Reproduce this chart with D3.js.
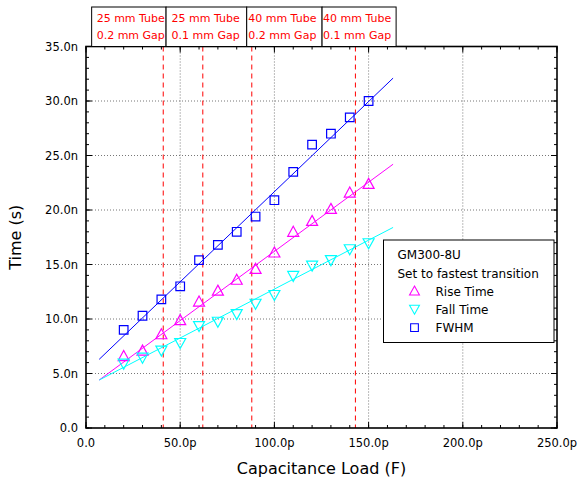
<!DOCTYPE html>
<html><head><meta charset="utf-8">
<script src="https://cdn.jsdelivr.net/npm/d3@7/dist/d3.min.js"></script>
<style>body{margin:0;background:#fff}svg{display:block}text{font-family:"DejaVu Sans",Verdana,sans-serif}</style>
</head><body>
<svg id="c" width="584" height="483"></svg>
<script>
const capLoad = [20,30,40,50,60,70,80,90,100,110,120,130,140,150];
const fwhm = [9.0,10.3,11.8,13.0,15.4,16.8,18.0,19.4,20.9,23.5,26.0,27.0,28.5,30.0];
const riseTime = [6.6,7.1,8.6,9.9,11.6,12.6,13.6,14.6,16.1,18.0,19.0,20.1,21.6,22.4];
const fallTime = [5.9,6.45,7.1,7.8,9.35,9.75,10.45,11.4,12.2,13.95,14.9,15.4,16.4,16.95];
const fitX = [7,163];
const fitFwhm = [6.3,32.1];
const fitRise = [4.4,24.2];
const fitFall = [4.4,18.4];
const markerLines = [41,62,88,143];
const boxEdges = [3,42.5,85.3,125.3,164.6];
const boxLine1 = ["25 mm Tube","25 mm Tube","40 mm Tube","40 mm Tube"];
const boxLine2 = ["0.2 mm Gap","0.1 mm Gap","0.2 mm Gap","0.1 mm Gap"];
const xTicks = [0,50,100,150,200,250];
const xTickLabels = ["0.0","50.0p","100.0p","150.0p","200.0p","250.0p"];
const yTicks = [0,5,10,15,20,25,30,35];
const yTickLabels = ["0.0","5.0n","10.0n","15.0n","20.0n","25.0n","30.0n","35.0n"];

const svg = d3.select("#c");
const L=86,R=557,T=46.5,B=428;
const x = d3.scaleLinear().domain([0,250]).range([L,R]);
const y = d3.scaleLinear().domain([0,35]).range([B,T]);

// grid
const g = svg.append("g");
g.selectAll(".gx").data(xTicks.slice(1,-1)).join("line")
 .attr("x1",d=>x(d)).attr("x2",d=>x(d)).attr("y1",T).attr("y2",B)
 .attr("stroke","#777").attr("stroke-width",1).attr("stroke-dasharray","1,2");
g.selectAll(".gy").data(yTicks.slice(1,-1)).join("line")
 .attr("y1",d=>y(d)).attr("y2",d=>y(d)).attr("x1",L).attr("x2",R)
 .attr("stroke","#777").attr("stroke-width",1).attr("stroke-dasharray","1,2");

// red dashed
svg.selectAll(".rl").data(markerLines).join("line")
 .attr("x1",d=>x(d)).attr("x2",d=>x(d)).attr("y1",T).attr("y2",B)
 .attr("stroke","#ff0000").attr("stroke-width",1).attr("stroke-dasharray","5,4");

// axes
const minorX = d3.range(0,251,10), minorY = d3.range(0,35.01,1);
const ax = svg.append("g");
function ticks(sel, vals, len, orient){
  sel.selectAll(null).data(vals).join("line").attr("stroke","#000").attr("stroke-width",1)
   .each(function(d){
     const s=d3.select(this);
     if(orient==="b") s.attr("x1",x(d)).attr("x2",x(d)).attr("y1",B).attr("y2",B-len);
     if(orient==="t") s.attr("x1",x(d)).attr("x2",x(d)).attr("y1",T).attr("y2",T+len);
     if(orient==="l") s.attr("y1",y(d)).attr("y2",y(d)).attr("x1",L).attr("x2",L+len);
     if(orient==="r") s.attr("y1",y(d)).attr("y2",y(d)).attr("x1",R).attr("x2",R-len);
   });
}
ticks(ax,minorX,3,"b");ticks(ax,xTicks,6,"b");
ticks(ax,minorX,3,"t");ticks(ax,xTicks,6,"t");
ticks(ax,minorY,3,"l");ticks(ax,yTicks,6,"l");
ticks(ax,minorY,3,"r");ticks(ax,yTicks,6,"r");
ax.append("rect").attr("x",L).attr("y",T).attr("width",R-L).attr("height",B-T)
 .attr("fill","none").attr("stroke","#000").attr("stroke-width",1.6);

svg.selectAll(".xl").data(xTicks).join("text").attr("x",d=>x(d)).attr("y",447)
 .attr("text-anchor","middle").attr("font-size",11.5).text((d,i)=>xTickLabels[i]);
svg.selectAll(".yl").data(yTicks).join("text").attr("x",78).attr("y",d=>y(d)+4)
 .attr("text-anchor","end").attr("font-size",11.5).text((d,i)=>yTickLabels[i]);

svg.append("text").attr("x",(L+R)/2).attr("y",474).attr("text-anchor","middle")
 .attr("font-size",16).text("Capacitance Load (F)");
svg.append("text").attr("transform",`translate(21,${(T+B)/2}) rotate(-90)`).attr("text-anchor","middle")
 .attr("font-size",16).text("Time (s)");

// fits
const line = d3.line().x(d=>x(d[0])).y(d=>y(d[1]));
[[fitFwhm,"#0000ff"],[fitRise,"#ff00ff"],[fitFall,"#00ffff"]].forEach(([f,c])=>{
  svg.append("path").attr("d",line(fitX.map((v,i)=>[v,f[i]]))).attr("stroke",c).attr("fill","none").attr("stroke-width",1);
});

// markers
const up = "M0,-5.5L5.5,4.5L-5.5,4.5Z", down="M0,5.5L5.5,-4.5L-5.5,-4.5Z", sq="M-4.3,-4.3H4.3V4.3H-4.3Z";
function marks(vals, path, col){
  svg.append("g").selectAll("path").data(vals).join("path")
   .attr("transform",(d,i)=>`translate(${x(capLoad[i])},${y(d)})`)
   .attr("d",path).attr("fill","none").attr("stroke",col).attr("stroke-width",1.2);
}
marks(fwhm,sq,"#0000ff");
marks(riseTime,up,"#ff00ff");
marks(fallTime,down,"#00ffff");

// top boxes
for(let i=0;i<4;i++){
  const x0=x(boxEdges[i]), x1=x(boxEdges[i+1]);
  svg.append("rect").attr("x",x0).attr("y",7).attr("width",x1-x0).attr("height",T-7)
   .attr("fill","#fff").attr("stroke","#000").attr("stroke-width",1);
  const off=[5,5.5,1.5,1][i];
  svg.append("text").attr("x",x0+off).attr("y",22).attr("fill","#ff0000").attr("font-size",11).text(boxLine1[i]);
  svg.append("text").attr("x",x0+off).attr("y",38.5).attr("fill","#ff0000").attr("font-size",11).text(boxLine2[i]);
}

// legend
const lg = svg.append("g");
lg.append("rect").attr("x",383.5).attr("y",240).attr("width",170.5).attr("height",102.5)
 .attr("fill","#fff").attr("stroke","#000").attr("stroke-width",1);
lg.append("text").attr("x",397.5).attr("y",259).attr("font-size",12).text("GM300-8U");
lg.append("text").attr("x",397.5).attr("y",277.5).attr("font-size",12).text("Set to fastest transition");
const items=[["Rise Time",up,"#ff00ff"],["Fall Time",down,"#00ffff"],["FWHM",sq,"#0000ff"]];
items.forEach(([t,p,c],i)=>{
  const yy=291+i*18.3;
  lg.append("path").attr("d",p).attr("transform",`translate(414.5,${yy}) scale(0.9)`).attr("fill","none").attr("stroke",c).attr("stroke-width",1.2);
  lg.append("text").attr("x",435.5).attr("y",yy+4.5).attr("font-size",12).text(t);
});
</script>
</body></html>
